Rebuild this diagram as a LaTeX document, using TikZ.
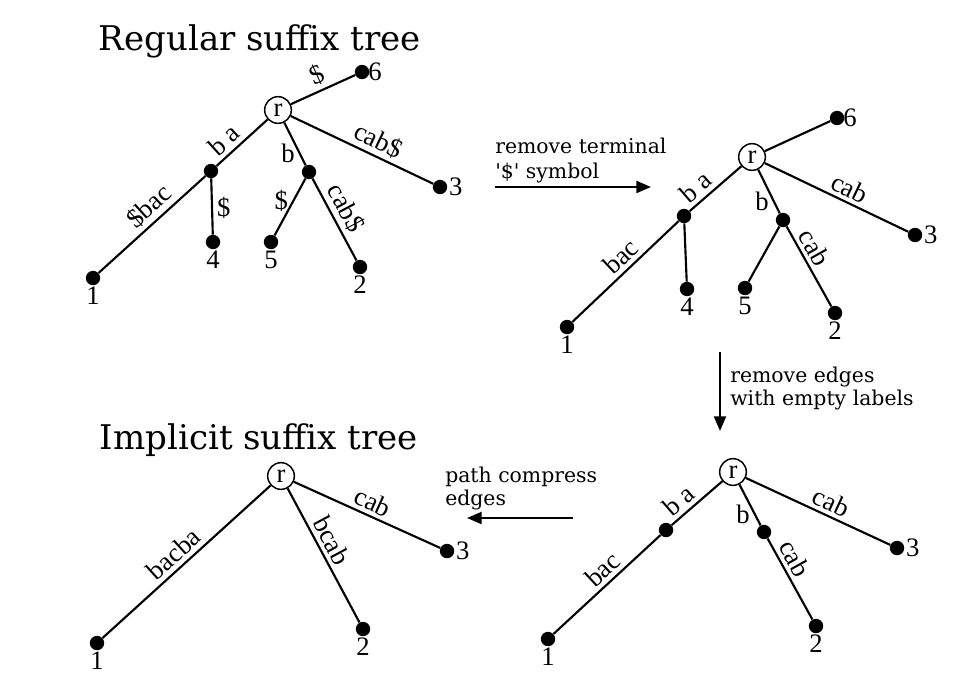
\documentclass[tikz,border=0pt]{standalone}
\usepackage{fontspec}
\setmainfont{Liberation Serif}
\newfontfamily\dvs{DejaVu Serif}
\usetikzlibrary{arrows.meta}
\begin{document}
\begin{tikzpicture}[x=0.75pt,y=-0.75pt,
  leaf/.style={circle,fill=black,inner sep=0pt,minimum size=10.8pt},
  root/.style={circle,draw,line width=1.1pt,inner sep=0pt,minimum size=20pt,font=\fontsize{20}{24}\selectfont},
  edge/.style={line width=1.6pt},
  lab/.style={font=\fontsize{20}{24}\selectfont,inner sep=3pt},
  num/.style={font=\fontsize{20}{24}\selectfont,inner sep=1pt},
  title/.style={font=\dvs\fontsize{25.5}{30}\selectfont,anchor=base,inner sep=0pt},
  note/.style={font=\dvs\fontsize{15.3}{18}\selectfont,anchor=base west,inner sep=0pt},
  step arrow/.style={line width=1.6pt,-{Triangle[length=11pt,width=9pt]}}]
\useasboundingbox (0,0) rectangle (973,696);
\fill[white] (0,0) rectangle (973,696);

% ---------- Regular suffix tree ----------
\node[title] (t1) at (260,50) {Regular suffix tree};
\node[root] (r1) at (278,110) {r};
\node[leaf,label={[num,anchor=south west,xshift=-2pt,yshift=-8pt]right:6}] (l16) at (362,72) {};
\node[leaf,label={[num]right:3}] (l13) at (440,187) {};
\node[leaf] (a1) at (211,171) {};
\node[leaf,label={[num]below:4}] (l14) at (213,242) {};
\node[leaf,label={[num]below:1}] (l11) at (93,278) {};
\node[leaf] (b1) at (309,172) {};
\node[leaf,label={[num]below:5}] (l15) at (271,242) {};
\node[leaf,label={[num]below:2}] (l12) at (360,267) {};
\draw[edge] (r1) -- node[lab,sloped,above,pos=0.5] {\$} (l16);
\draw[edge] (r1) -- node[lab,sloped,above,pos=0.57] {cab\$} (l13);
\draw[edge] (a1) -- node[lab,sloped,above,pos=0.33] {b a} (r1);
\draw[edge] (l11) -- node[lab,sloped,above,pos=0.57] {\$bac} (a1);
\draw[edge] (a1) -- node[lab,right,pos=0.52] {\$} (l14);
\draw[edge] (r1) -- node[lab,left,pos=0.72] {b} (b1);
\draw[edge] (b1) -- node[lab,left,pos=0.4] {\$} (l15);
\draw[edge] (b1) -- node[lab,sloped,above,pos=0.45] {cab\$} (l12);

% ---------- arrow 1 ----------
\node[note] (n1a) at (495,153) {remove terminal};
\node[note] (n1b) at (495,178) {'\$' symbol};
\coordinate (s1) at (495,187);
\coordinate (e1) at (651,187);
\draw[step arrow] (s1) -- (e1);

% ---------- tree without $ ----------
\node[root] (r2) at (752,157) {r};
\node[leaf,label={[num,anchor=south west,xshift=-2pt,yshift=-8pt]right:6}] (l26) at (837,118) {};
\node[leaf,label={[num]right:3}] (l23) at (915,235) {};
\node[leaf] (a2) at (684,216) {};
\node[leaf,label={[num]below:4}] (l24) at (687,289) {};
\node[leaf,label={[num]below:1}] (l21) at (567,327) {};
\node[leaf] (b2) at (783,220) {};
\node[leaf,label={[num]below:5}] (l25) at (745,288) {};
\node[leaf,label={[num]below:2}] (l22) at (835,313) {};
\draw[edge] (r2) -- (l26);
\draw[edge] (r2) -- node[lab,sloped,above,pos=0.55] {cab} (l23);
\draw[edge] (a2) -- node[lab,sloped,above,pos=0.3] {b a} (r2);
\draw[edge] (l21) -- node[lab,sloped,above,pos=0.55] {bac} (a2);
\draw[edge] (a2) -- (l24);
\draw[edge] (r2) -- node[lab,left,pos=0.72] {b} (b2);
\draw[edge] (b2) -- (l25);
\draw[edge] (b2) -- node[lab,sloped,above,pos=0.35] {cab} (l22);

% ---------- arrow 2 ----------
\coordinate (s2) at (720,352);
\coordinate (e2) at (720,431);
\draw[step arrow] (s2) -- (e2);
\node[note] (n2a) at (730,382) {remove edges};
\node[note] (n2b) at (730,405) {with empty labels};

% ---------- tree without empty edges ----------
\node[root] (r3) at (733,472) {r};
\node[leaf] (a3) at (666,530) {};
\node[leaf,label={[num]below:1}] (l31) at (548,639) {};
\node[leaf] (b3) at (764,532) {};
\node[leaf,label={[num]below:2}] (l32) at (816,626) {};
\node[leaf,label={[num]right:3}] (l33) at (897,548) {};
\draw[edge] (a3) -- node[lab,sloped,above,pos=0.32] {b a} (r3);
\draw[edge] (l31) -- node[lab,sloped,above,pos=0.55] {bac} (a3);
\draw[edge] (r3) -- node[lab,left,pos=0.72] {b} (b3);
\draw[edge] (b3) -- node[lab,sloped,above,pos=0.33] {cab} (l32);
\draw[edge] (r3) -- node[lab,sloped,above,pos=0.55] {cab} (l33);

% ---------- arrow 3 ----------
\node[note] (n3a) at (445,482) {path compress};
\node[note] (n3b) at (445,505) {edges};
\coordinate (s3) at (573,518);
\coordinate (e3) at (467,518);
\draw[step arrow] (s3) -- (e3);

% ---------- Implicit suffix tree ----------
\node[title] (t2) at (259,449) {Implicit suffix tree};
\node[root] (r4) at (281,476) {r};
\node[leaf,label={[num]below:1}] (l41) at (97,643) {};
\node[leaf,label={[num]below:2}] (l42) at (363,629) {};
\node[leaf,label={[num]right:3}] (l43) at (447,551) {};
\draw[edge] (l41) -- node[lab,sloped,above,pos=0.48] {bacba} (r4);
\draw[edge] (r4) -- node[lab,sloped,above,pos=0.44] {bcab} (l42);
\draw[edge] (r4) -- node[lab,sloped,above,pos=0.5] {cab} (l43);
\end{tikzpicture}
\end{document}
